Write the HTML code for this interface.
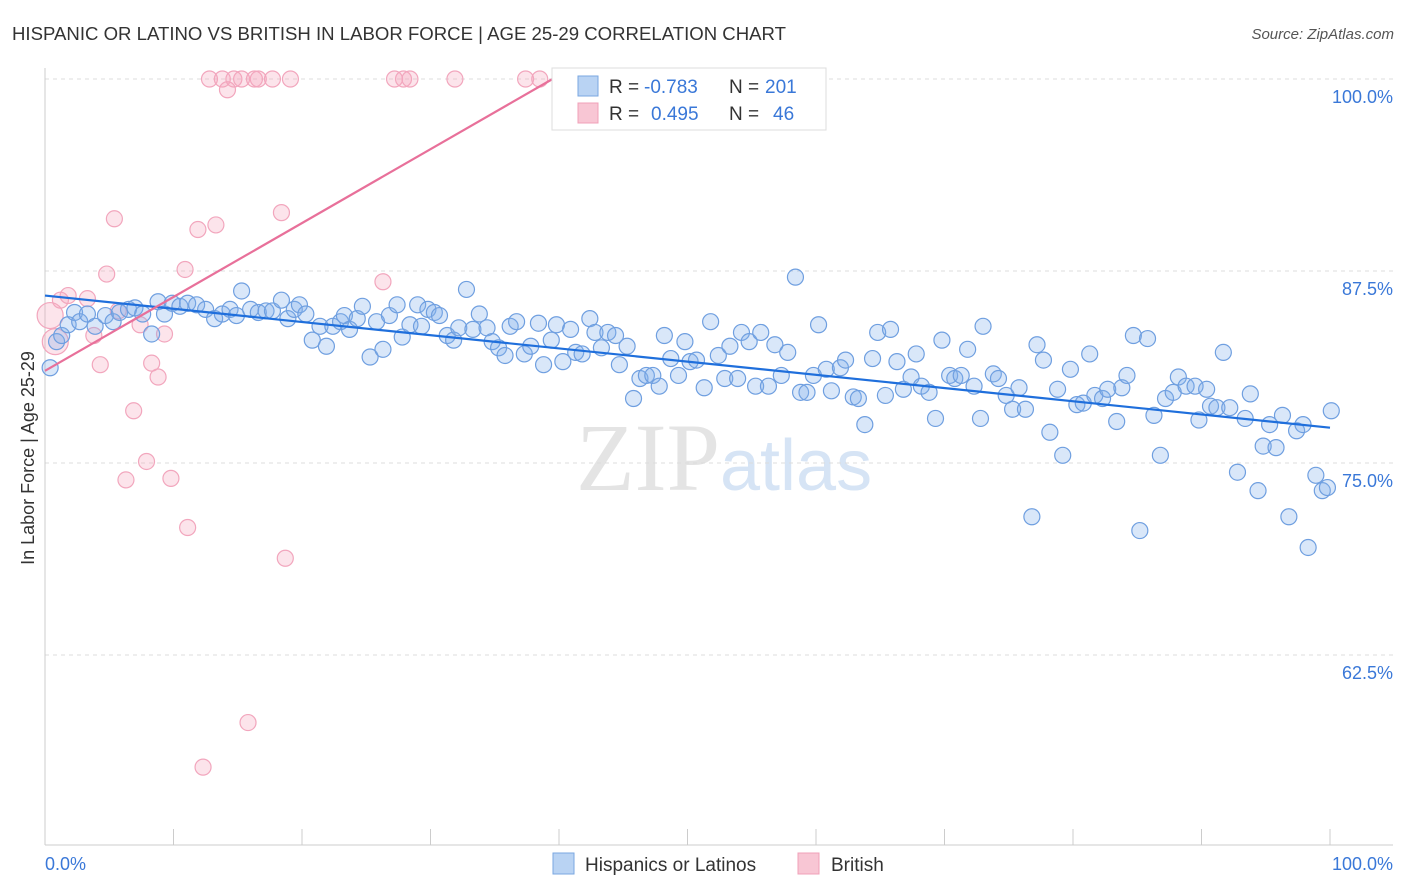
<!DOCTYPE html>
<html><head><meta charset="utf-8">
<style>
body{margin:0;background:#fff;font-family:"Liberation Sans",sans-serif;}
#wrap{position:relative;width:1406px;height:892px;overflow:hidden;}
</style></head>
<body>
<div id="wrap">
<svg id="chart" width="1406" height="892" xmlns="http://www.w3.org/2000/svg">
<text x="12" y="40" font-size="18" fill="#333" textLength="774" lengthAdjust="spacingAndGlyphs" font-family="Liberation Sans, sans-serif">HISPANIC OR LATINO VS BRITISH IN LABOR FORCE | AGE 25-29 CORRELATION CHART</text>
<text x="1394" y="39" font-size="15" fill="#555" font-style="italic" text-anchor="end">Source: ZipAtlas.com</text>
<text x="720" y="490" font-size="96" fill="#e4e4e4" text-anchor="end" font-family="Liberation Serif, serif">ZIP</text>
<text x="720" y="490" font-size="72" fill="#d6e4f5" font-family="Liberation Sans, sans-serif">atlas</text>
<g id="grid"></g>
<g id="axes"></g>
<g id="pinkPts"></g>
<g id="bluePts"></g>
<g id="lines"></g>
<text x="34" y="458" font-size="18" fill="#333" text-anchor="middle" transform="rotate(-90 34 458)">In Labor Force | Age 25-29</text>
<text x="45" y="870" font-size="18" fill="#3a78d8">0.0%</text>
<text x="1393" y="870" font-size="18" fill="#3a78d8" text-anchor="end">100.0%</text>
<g font-size="19">
<rect x="552" y="68" width="274" height="62" fill="#fff" stroke="#ddd"/>
<rect x="578" y="76" width="20" height="20" fill="#b9d3f3" stroke="#7aa7e0"/>
<text x="609" y="93" fill="#333">R =</text>
<text x="644" y="93" fill="#3a78d8">-0.783</text>
<text x="729" y="93" fill="#333">N =</text>
<text x="765" y="93" fill="#3a78d8">201</text>
<rect x="578" y="103" width="20" height="20" fill="#f8c6d4" stroke="#f0a0b8"/>
<text x="609" y="120" fill="#333">R =</text>
<text x="651" y="120" fill="#3a78d8">0.495</text>
<text x="729" y="120" fill="#333">N =</text>
<text x="773" y="120" fill="#3a78d8">46</text>
</g>
<g>
<rect x="553" y="853" width="21" height="21" fill="#b9d3f3" stroke="#7aa7e0"/>
<text x="585" y="871" font-size="19" fill="#333">Hispanics or Latinos</text>
<rect x="798" y="853" width="21" height="21" fill="#f8c6d4" stroke="#f0a0b8"/>
<text x="831" y="871" font-size="19" fill="#333">British</text>
</g>
</svg>
</div>
<script>
const yTicks=[100,87.5,75,62.5];
const yTickLabels=["100.0%","87.5%","75.0%","62.5%"];
const xTicks=[0,10,20,30,40,50,60,70,80,90,100];
const blueX=[0.4,0.9,1.3,1.8,2.3,2.7,3.3,3.9,4.7,5.3,5.8,6.5,7.0,7.6,8.3,8.8,9.3,9.9,10.5,11.1,11.8,12.5,13.2,13.8,14.4,14.9,15.3,16.0,16.6,17.2,17.7,18.4,18.9,19.4,19.8,20.3,20.8,21.4,21.9,22.4,23.0,23.3,23.7,24.3,24.7,25.3,25.8,26.3,26.8,27.4,27.8,28.4,29.0,29.3,29.8,30.3,30.7,31.3,31.8,32.2,32.8,33.3,33.8,34.4,34.8,35.3,35.8,36.2,36.7,37.3,37.8,38.4,38.8,39.4,39.8,40.3,40.9,41.3,41.8,42.4,42.8,43.3,43.8,44.4,44.7,45.3,45.8,46.3,46.8,47.3,47.8,48.2,48.7,49.3,49.8,50.2,50.7,51.3,51.8,52.4,52.9,53.3,53.9,54.2,54.8,55.3,55.7,56.3,56.8,57.3,57.8,58.4,58.8,59.3,59.8,60.2,60.8,61.2,61.9,62.3,62.9,63.3,63.8,64.4,64.8,65.4,65.8,66.3,66.8,67.4,67.8,68.2,68.8,69.3,69.8,70.4,70.8,71.3,71.8,72.3,72.8,73.0,73.8,74.2,74.8,75.3,75.8,76.3,76.8,77.2,77.7,78.2,78.8,79.2,79.8,80.3,80.8,81.3,81.7,82.3,82.7,83.4,83.8,84.2,84.7,85.2,85.8,86.3,86.8,87.2,87.8,88.2,88.8,89.5,89.8,90.4,90.7,91.2,91.7,92.2,92.8,93.4,93.8,94.4,94.8,95.3,95.8,96.3,96.8,97.4,97.9,98.3,98.9,99.4,99.8,100.1];
const blueY=[81.2,82.9,83.3,84.0,84.8,84.2,84.7,83.9,84.6,84.2,84.8,85.0,85.1,84.7,83.4,85.5,84.7,85.4,85.2,85.4,85.3,85.0,84.4,84.7,85.0,84.6,86.2,85.0,84.8,84.9,84.9,85.6,84.4,85.0,85.3,84.7,83.0,83.9,82.6,83.9,84.2,84.6,83.7,84.4,85.2,81.9,84.2,82.4,84.6,85.3,83.2,84.0,85.3,83.9,85.0,84.8,84.6,83.3,83.0,83.8,86.3,83.7,84.7,83.8,82.9,82.5,82.0,83.9,84.2,82.1,82.6,84.1,81.4,83.0,84.0,81.6,83.7,82.2,82.1,84.4,83.5,82.5,83.5,83.3,81.4,82.6,79.2,80.5,80.7,80.7,80.0,83.3,81.8,80.7,82.9,81.6,81.7,79.9,84.2,82.0,80.5,82.6,80.5,83.5,82.9,80.0,83.5,80.0,82.7,80.7,82.2,87.1,79.6,79.6,80.7,84.0,81.1,79.7,81.2,81.7,79.3,79.2,77.5,81.8,83.5,79.4,83.7,81.6,79.8,80.6,82.1,80.0,79.6,77.9,83.0,80.7,80.5,80.7,82.4,80.0,77.9,83.9,80.8,80.5,79.4,78.5,79.9,78.5,71.5,82.7,81.7,77.0,79.8,75.5,81.1,78.8,78.9,82.1,79.4,79.2,79.8,77.7,79.9,80.7,83.3,70.6,83.1,78.1,75.5,79.2,79.6,80.6,80.0,80.0,77.8,79.8,78.7,78.6,82.2,78.6,74.4,77.9,79.5,73.2,76.1,77.5,76.0,78.1,71.5,77.1,77.5,69.5,74.2,73.2,73.4,78.4];
const pinkX=[0.4,0.8,1.2,1.8,3.3,3.8,4.3,4.8,5.4,5.7,6.9,7.4,7.9,6.3,8.3,8.8,9.3,9.8,10.9,11.1,11.9,12.3,12.8,13.3,13.8,14.2,14.7,15.3,15.8,16.3,16.6,17.7,18.4,18.7,19.1,26.3,27.2,27.9,28.4,31.9,37.4,38.5,47.5];
const pinkY=[84.6,82.9,85.6,85.9,85.7,83.3,81.4,87.3,90.9,84.9,78.4,84.0,75.1,73.9,81.5,80.6,83.4,74.0,87.6,70.8,90.2,55.2,100,90.5,100,99.3,100,100,58.1,100,100,100,91.3,68.8,100,86.8,100,100,100,100,100,100,100];
const blueLine=[[0,85.9],[100,77.3]];
const pinkLine=[[0,81.0],[39.5,100]];

const NS="http://www.w3.org/2000/svg";
const X0=45,X1=1330,YT=79,YPX=15.36;
function sx(v){return X0+(X1-X0)*v/100;}
function sy(v){return YT+(100-v)*YPX;}
function mk(tag,attrs,parent){const e=document.createElementNS(NS,tag);for(const k in attrs)e.setAttribute(k,attrs[k]);parent.appendChild(e);return e;}
const grid=document.getElementById('grid'),axes=document.getElementById('axes');
yTicks.forEach((t,i)=>{
  const l=mk('line',{x1:45,x2:1393,y1:sy(t),y2:sy(t),stroke:'#dcdcdc','stroke-dasharray':'4,4'},grid);
  
  
  const tx=mk('text',{x:1393,y:sy(t)+24,'font-size':18,fill:'#3a78d8','text-anchor':'end'},grid);
  tx.textContent=yTickLabels[i];
  
  
});
const ya=mk('line',{x1:45,x2:45,y1:68,y2:845,stroke:'#ccc'},axes);


const xa=mk('line',{x1:45,x2:1393,y1:845,y2:845,stroke:'#ccc'},axes);


xTicks.forEach(t=>{
  const l=mk('line',{x1:sx(t),x2:sx(t),y1:829,y2:845,stroke:'#ccc'},axes);
  
  
});
const pg=document.getElementById('pinkPts');
pinkX.forEach((x,i)=>{
  const big=i<2;
  const c=mk('circle',{cx:sx(x),cy:sy(pinkY[i]),r:big?13:8,fill:'rgba(245,165,190,0.3)',stroke:'#f2a6bd','stroke-width':1.2},pg);
  
  
});
const bg=document.getElementById('bluePts');
blueX.forEach((x,i)=>{
  const c=mk('circle',{cx:sx(x),cy:sy(blueY[i]),r:8,fill:'rgba(130,175,235,0.3)',stroke:'#6f9fe0','stroke-width':1.2},bg);
  
  
});
const lg=document.getElementById('lines');
const bl=mk('line',{x1:sx(blueLine[0][0]),y1:sy(blueLine[0][1]),x2:sx(blueLine[1][0]),y2:sy(blueLine[1][1]),stroke:'#1f6fdc','stroke-width':2.2},lg);


const pl=mk('line',{x1:sx(pinkLine[0][0]),y1:sy(pinkLine[0][1]),x2:sx(pinkLine[1][0]),y2:sy(pinkLine[1][1]),stroke:'#e8709a','stroke-width':2.2},lg);


</script>
</body></html>
